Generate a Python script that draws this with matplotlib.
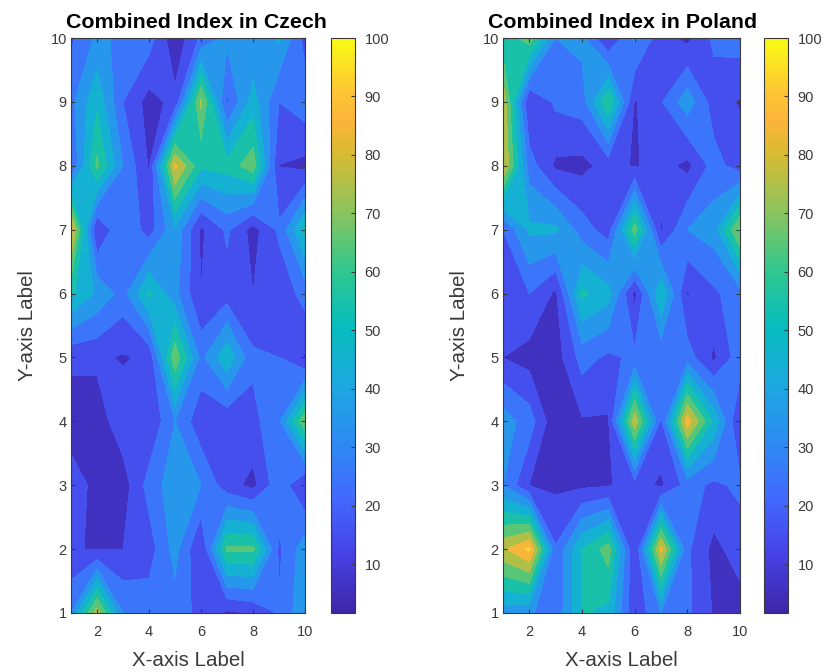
import numpy as np
import matplotlib
matplotlib.use('Agg')
import matplotlib.pyplot as plt
from matplotlib.colors import LinearSegmentedColormap, Normalize
from matplotlib.cm import ScalarMappable

plt.rcParams['font.family'] = ['Liberation Sans', 'DejaVu Sans']

x_vals = np.arange(1, 11)
y_vals = np.arange(1, 11)

# rows are y = 1..10, columns x = 1..10
czech = [
    [30, 75, 30, 26, 25, 17, 8, 11, 21, 38],
    [10.5, 9.5, 10, 15, 34, 9.5, 62, 62, 18, 36],
    [15, 7, 5, 24, 36, 30, 14, 7, 27, 9],
    [5, 5, 16, 11, 30, 13, 12, 17, 28, 68],
    [12, 12, 9, 12, 68, 27, 48, 22, 20, 9],
    [52, 38, 26, 52, 33, 10, 15, 10, 13, 24],
    [85, 9, 30, 15, 38, 8, 22, 6, 22, 52],
    [19, 62, 30, 9, 83, 52, 54, 66, 9.8, 7],
    [27, 48, 20, 6, 13, 72, 18, 45, 20, 26],
    [18, 32, 28, 25, 2, 22, 32, 30, 42, 16],
]
poland = [
    [35, 32, 22, 51, 47, 12, 30, 22, 9, 5],
    [78, 92, 21, 50, 65, 9, 83, 22, 7, 15],
    [30, 10, 8, 8, 9, 15, 8, 24, 18, 22],
    [35, 25, 2, 9, 9, 78, 18, 86, 48, 8],
    [10, 6, 5, 24, 18, 22, 22, 25, 8, 26],
    [12, 20, 8, 52, 44, 7, 50, 9, 18, 26],
    [20, 42, 42, 25, 15, 65, 8.5, 30, 35, 72],
    [82, 25, 8, 7, 14, 9, 14, 7, 24, 15],
    [78, 9, 22, 25, 60, 9, 19, 36, 15, 9],
    [52, 66, 30, 33, 9, 32, 14, 7, 22, 25],
]
titles = ['Combined Index in Czech', 'Combined Index in Poland']
levels = [1.7, 10, 20, 30, 40, 50, 60, 70, 80, 90, 100]
bar_ticks = [10, 20, 30, 40, 50, 60, 70, 80, 90, 100]
ax_ticks = [2, 4, 6, 8, 10]

parula = LinearSegmentedColormap.from_list('parula', [
    (0.00, (0.2422, 0.1504, 0.6603)), (0.10, (0.2783, 0.2559, 0.8991)),
    (0.20, (0.2602, 0.4123, 0.9952)), (0.30, (0.1764, 0.5499, 0.9520)),
    (0.40, (0.1113, 0.6635, 0.8763)), (0.50, (0.0239, 0.7415, 0.7404)),
    (0.60, (0.2000, 0.7800, 0.5500)), (0.70, (0.5500, 0.7700, 0.3600)),
    (0.80, (0.8500, 0.7300, 0.2000)), (0.86, (0.9900, 0.7100, 0.2300)),
    (0.91, (0.9900, 0.7800, 0.2000)), (1.00, (0.9769, 0.9839, 0.0805))])
norm = Normalize(1.7, 100)

W, H = 825, 672
ink = '#3a3a3a'


def pixel_axes(fig, left, right, top, bottom):
    return fig.add_axes([left/W, 1 - bottom/H, (right - left)/W, (bottom - top)/H])


def draw_panel(fig, data, title, title_x, left, right, bar_left, bar_right):
    ax = pixel_axes(fig, left, right, 38, 613)
    ax.contourf(x_vals, y_vals, np.array(data), levels=levels, cmap=parula, norm=norm)
    ax.set_xticks(ax_ticks)
    ax.set_yticks(range(1, 11))
    ax.tick_params(direction='in', length=3, width=0.8, colors=ink, labelsize=10.5,
                   top=True, right=True)
    ax.tick_params(axis='x', pad=9)
    ax.tick_params(axis='y', pad=3)
    for s in ax.spines.values():
        s.set_linewidth(0.8)
        s.set_color(ink)
    ax.set_xlabel('X-axis Label', fontsize=14.8, color=ink, labelpad=8)
    ax.set_ylabel('Y-axis Label', fontsize=14.8, color=ink, labelpad=10)
    ax.set_title(title, fontsize=15.4, fontweight='bold', color='black', pad=7, x=title_x)

    cax = pixel_axes(fig, bar_left, bar_right, 38, 613)
    cb = fig.colorbar(ScalarMappable(norm=norm, cmap=parula), cax=cax)
    cb.set_ticks(bar_ticks)
    cb.ax.tick_params(direction='in', length=3, width=0.8, colors=ink, labelsize=10.5, pad=7)
    cb.outline.set_linewidth(0.8)
    cb.outline.set_edgecolor(ink)


fig = plt.figure(figsize=(W/100, H/100), dpi=100)
draw_panel(fig, czech, titles[0], 0.534, 71, 305, 331, 355)
draw_panel(fig, poland, titles[1], 0.504, 503, 740, 764, 788)
fig.savefig('out.png', dpi=100)
